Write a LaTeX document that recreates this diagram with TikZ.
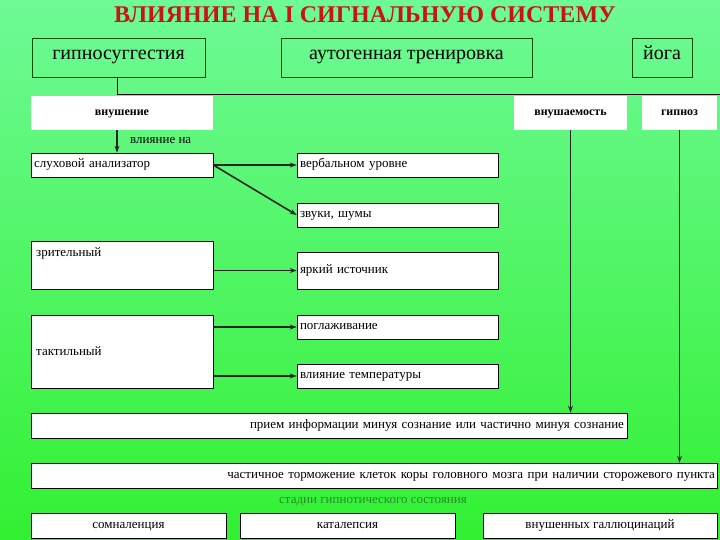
\documentclass[tikz,border=0pt]{standalone}
\usepackage{fontspec}
\setmainfont{Liberation Serif}
\usetikzlibrary{arrows.meta}
\definecolor{topg}{RGB}{110,250,150}
\definecolor{botg}{RGB}{50,240,50}
\definecolor{titler}{RGB}{200,20,20}
\definecolor{stg}{RGB}{40,140,40}
\begin{document}
\begin{tikzpicture}[x=1pt,y=1pt,
  every node/.style={text height=0.7em,text depth=0.2em},
  wbox/.style={draw=black,fill=white,line width=0.6pt,inner sep=0pt,font=\fontsize{13}{15}\selectfont},
  hbox/.style={draw=black!70!green,line width=0.7pt,inner sep=0pt,font=\fontsize{20}{24}\selectfont},
  plain/.style={fill=white,inner sep=0pt,font=\bfseries\fontsize{12}{14}\selectfont},
  arr/.style={-{Stealth[length=7pt,width=5pt]},line width=1.6pt,black!85}]
\shade[top color=topg,bottom color=botg] (0,0) rectangle (720,-540);
\useasboundingbox (0,0) rectangle (720,-540);
\node[font=\bfseries\fontsize{24}{28}\selectfont,text=titler] (title) at (365,-20) {ВЛИЯНИЕ НА I СИГНАЛЬНУЮ СИСТЕМУ};
\node[hbox,minimum width=173,minimum height=39] (hs) at (118.5,-57.5) {гипносуггестия};
\node[hbox,minimum width=251,minimum height=39] (at) at (406.5,-57.5) {аутогенная тренировка};
\node[hbox,minimum width=60,minimum height=39] (yo) at (662,-57.5) {йога};
\coordinate (c1) at (117,-95);
\coordinate (c2) at (720,-95);
\draw[line width=1pt] (hs.south -| c1) -- (c1) -- (c2);
\node[plain,minimum width=182,minimum height=34] (vn) at (122,-113) {внушение};
\node[plain,minimum width=113,minimum height=34] (vs) at (570.5,-113) {внушаемость};
\node[plain,minimum width=75,minimum height=34] (gi) at (679.5,-113) {гипноз};
\node[wbox,minimum width=182,minimum height=24,text width=176,align=left] (sl) at (122,-165) {слуховой анализатор};
\node[wbox,minimum width=201,minimum height=24,text width=195,align=left] (ve) at (397.5,-165) {вербальном уровне};
\node[wbox,minimum width=201,minimum height=24,text width=195,align=left] (zv) at (397.5,-215) {звуки, шумы};
\node[wbox,minimum width=182,minimum height=48] (zr) at (122,-265) {};
\node[anchor=west,font=\fontsize{13}{15}\selectfont,inner sep=0pt] (zrt) at (36,-254) {зрительный};
\node[wbox,minimum width=201,minimum height=37,text width=195,align=left] (ya) at (397.5,-270.5) {яркий источник};
\node[wbox,minimum width=182,minimum height=73] (ta) at (122,-351.5) {};
\node[anchor=west,font=\fontsize{13}{15}\selectfont,inner sep=0pt] (tat) at (36,-353) {тактильный};
\node[wbox,minimum width=201,minimum height=24,text width=195,align=left] (po) at (397.5,-327) {поглаживание};
\node[wbox,minimum width=201,minimum height=24,text width=195,align=left] (vt) at (397.5,-376) {влияние температуры};
\node[wbox,minimum width=596,minimum height=25,text width=590,align=right] (pr) at (329,-425.5) {прием информации минуя сознание или частично минуя сознание};
\node[wbox,minimum width=686,minimum height=25,text width=682,align=right] (ch) at (374,-475.5) {частичное торможение клеток коры головного мозга при наличии сторожевого пункта};
\node[font=\fontsize{13}{15}\selectfont,text=stg] (st) at (373,-501) {стадии гипнотического состояния};
\node[wbox,minimum width=195,minimum height=25] (so) at (128.5,-525.5) {сомналенция};
\node[wbox,minimum width=215,minimum height=25] (ka) at (347.5,-525.5) {каталепсия};
\node[wbox,minimum width=234,minimum height=25] (vg) at (600,-525.5) {внушенных галлюцинаций};
\draw[arr] (vn.south -| c1) -- (sl.north -| c1);
\node[font=\fontsize{13}{15}\selectfont,anchor=west,inner sep=0pt] (vl) at (130,-141) {влияние на};
\draw[arr] (sl.east) -- (ve.west);
\draw[arr] (sl.east) -- (zv.west);
\draw[arr] (zr.east |- ya.west) -- (ya.west);
\draw[arr] (ta.east |- po.west) -- (po.west);
\draw[arr] (ta.east |- vt.west) -- (vt.west);
\draw[arr] (vs.south) -- (pr.north -| vs.south);
\draw[arr] (gi.south) -- (ch.north -| gi.south);
\end{tikzpicture}
\end{document}
